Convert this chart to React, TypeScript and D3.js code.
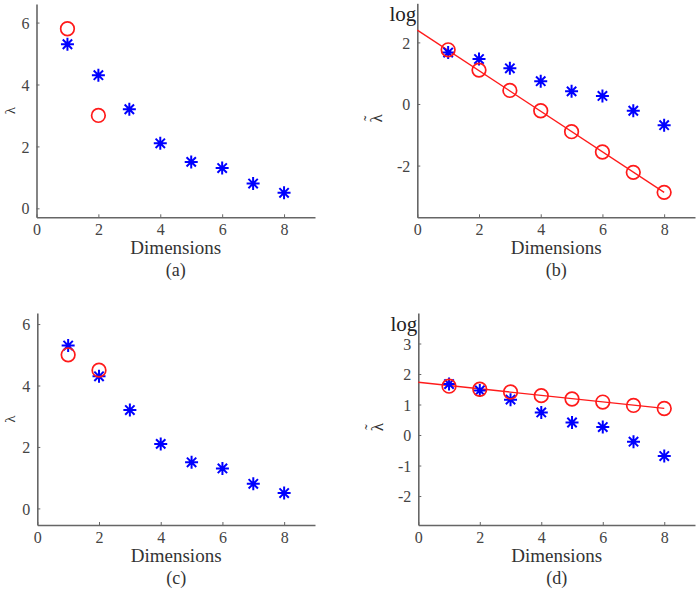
import React, { useEffect, useRef } from 'react';
import * as d3 from 'd3';

// values
const dims = [1, 2, 3, 4, 5, 6, 7, 8];
const lambdaStar = [5.3, 4.3, 3.2, 2.1, 1.5, 1.3, 0.8, 0.5];
const logLambdaStar = [1.67, 1.46, 1.16, 0.74, 0.41, 0.26, -0.22, -0.69];

const circleDimsA = [1, 2];
const lambdaCircleA = [5.8, 3.0];
const circleDimsC = [1, 2];
const lambdaCircleC = [5.0, 4.5];

const logCircleB = [1.76, 1.1, 0.44, -0.22, -0.9, -1.56, -2.22, -2.87];
const logCircleD = [1.6, 1.5, 1.41, 1.29, 1.18, 1.08, 0.97, 0.87];

const fitX = [0, 8];
const fitB = [2.4, -2.87];
const fitD = [1.73, 0.87];

const xTicks = [0, 2, 4, 6, 8];
const yTicksLambda = [0, 2, 4, 6];
const yTicksB = [-2, 0, 2];
const yTicksD = [-2, -1, 0, 1, 2, 3];

const FONT = '"Liberation Serif", "DejaVu Serif", serif';

const App = () => {
  const svgRef = useRef<SVGSVGElement>(null);

  useEffect(() => {
    const svg = d3.select(svgRef.current);
    svg.selectAll('*').remove();

    const panels = [
      {
        tag: '(a)', left: 36.5, right: 315, top: 4, bottom: 217.3,
        yDomain: [-0.29, 6.6], yTicks: yTicksLambda, log: false,
        stars: lambdaStar, circX: circleDimsA, circY: lambdaCircleA, fit: null as number[] | null,
      },
      {
        tag: '(b)', left: 417.3, right: 695, top: 3.3, bottom: 217.3,
        yDomain: [-3.68, 3.27], yTicks: yTicksB, log: true,
        stars: logLambdaStar, circX: dims, circY: logCircleB, fit: fitB,
      },
      {
        tag: '(c)', left: 37.3, right: 315, top: 313, bottom: 525,
        yDomain: [-0.54, 6.36], yTicks: yTicksLambda, log: false,
        stars: lambdaStar, circX: circleDimsC, circY: lambdaCircleC, fit: null,
      },
      {
        tag: '(d)', left: 418.3, right: 695, top: 313, bottom: 525,
        yDomain: [-2.95, 4.0], yTicks: yTicksD, log: true,
        stars: logLambdaStar, circX: dims, circY: logCircleD, fit: fitD,
      },
    ];

    panels.forEach(p => {
      const x = d3.scaleLinear().domain([0, 9]).range([p.left, p.right]);
      const y = d3.scaleLinear().domain(p.yDomain).range([p.bottom, p.top]);
      const g = svg.append('g');

      // axes (left + bottom only, ticks pointing in)
      const axisColor = '#666';
      const xAxis = g.append('g')
        .attr('transform', `translate(0,${p.bottom})`)
        .call(d3.axisBottom(x).tickValues(xTicks).tickFormat(d => String(d))
          .tickSizeInner(-3).tickSizeOuter(0).tickPadding(8));
      const yAxis = g.append('g')
        .attr('transform', `translate(${p.left},0)`)
        .call(d3.axisLeft(y).tickValues(p.yTicks).tickFormat(d => String(d))
          .tickSizeInner(-3).tickSizeOuter(0).tickPadding(7));
      [xAxis, yAxis].forEach(a => {
        a.attr('font-family', null);
        a.select('.domain').attr('stroke', axisColor).attr('stroke-width', 1.6);
        a.selectAll('.tick line').attr('stroke', axisColor).attr('stroke-width', 1);
        a.selectAll('.tick text')
          .attr('fill', '#444')
          .attr('font-family', FONT)
          .attr('font-size', 16);
      });
      yAxis.selectAll('.tick text').attr('dy', '0.35em');
      xAxis.selectAll('.tick text').attr('dy', '0.6em');

      const cx = (p.left + p.right) / 2;
      g.append('text')
        .attr('x', cx).attr('y', p.bottom + 37)
        .attr('text-anchor', 'middle')
        .attr('fill', '#333')
        .attr('font-family', FONT).attr('font-size', 19)
        .text('Dimensions');
      g.append('text')
        .attr('x', cx).attr('y', p.bottom + 59)
        .attr('text-anchor', 'middle')
        .attr('fill', '#333')
        .attr('font-family', FONT).attr('font-size', 18)
        .text(p.tag);

      // y label, rotated; tilde drawn over lambda for the log panels
      const cy = (p.top + p.bottom) / 2;
      const lx = p.log ? p.left - 35 : p.left - 22;
      const lab = g.append('g')
        .attr('transform', `translate(${lx},${p.log ? cy + 8 : cy}) rotate(-90)`);
      lab.append('text')
        .attr('text-anchor', 'middle')
        .attr('fill', '#333')
        .attr('font-family', FONT).attr('font-size', p.log ? 17 : 15)
        .text('λ');
      if (p.log) {
        lab.append('text')
          .attr('y', -7)
          .attr('text-anchor', 'middle')
          .attr('fill', '#333')
          .attr('font-family', FONT).attr('font-size', 16)
          .text('˜');
        g.append('text')
          .attr('x', p.left - 1).attr('y', p.top + 18)
          .attr('text-anchor', 'end')
          .attr('fill', '#222')
          .attr('font-family', FONT).attr('font-size', 21)
          .text('log');
      }

      // fit line
      if (p.fit) {
        const line = d3.line<number>().x((d, i) => x(fitX[i])).y(d => y(d));
        g.append('path')
          .datum(p.fit)
          .attr('d', line)
          .attr('fill', 'none')
          .attr('stroke', '#ff1a1a')
          .attr('stroke-width', 1.3);
      }

      // stars
      const r = 6.5;
      const star = `M0,${-r}V${r}M${-r},0H${r}` +
        `M${-r * 0.72},${-r * 0.72}L${r * 0.72},${r * 0.72}` +
        `M${-r * 0.72},${r * 0.72}L${r * 0.72},${-r * 0.72}`;
      g.selectAll('path.star')
        .data(p.stars)
        .join('path')
        .attr('class', 'star')
        .attr('transform', (d, i) => `translate(${x(dims[i])},${y(d)})`)
        .attr('d', star)
        .attr('stroke', '#0000ff')
        .attr('stroke-width', 2)
        .attr('fill', 'none');

      // circles
      g.selectAll('circle.mk')
        .data(p.circY)
        .join('circle')
        .attr('class', 'mk')
        .attr('cx', (d, i) => x(p.circX[i]))
        .attr('cy', d => y(d))
        .attr('r', 6.8)
        .attr('fill', 'none')
        .attr('stroke', '#ff1a1a')
        .attr('stroke-width', 1.7);
    });
  }, []);

  return (
    <svg ref={svgRef} width={700} height={591}
      style={{ position: 'absolute', left: 0, top: 0, background: '#fff' }} />
  );
};

export default App;
